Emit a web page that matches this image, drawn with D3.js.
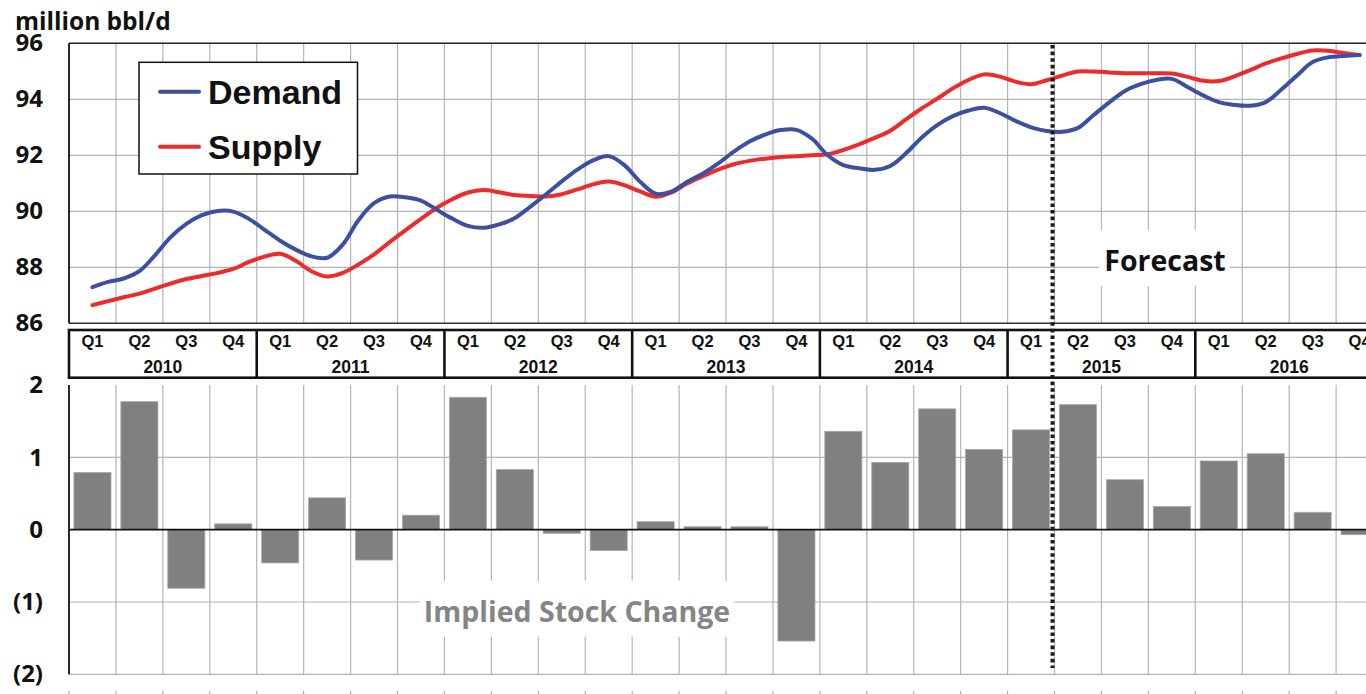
<!DOCTYPE html>
<html><head><meta charset="utf-8">
<script src="https://cdn.jsdelivr.net/npm/d3@7"></script>
<style>html,body{margin:0;padding:0;background:#fff;overflow:hidden}</style>
</head><body>
<svg id="chart" width="1366" height="694"></svg>
<script>
// ---------- DATA ----------
const years = ["2010","2011","2012","2013","2014","2015","2016"];
const quarterNames = ["Q1","Q2","Q3","Q4"];
// monthly-resolution readings, from Q1 2010 (centre) to Q4 2016 (centre), 3 per quarter
const demand = [87.29,87.48,87.60,87.86,88.43,89.08,89.55,89.86,90.01,89.99,89.73,89.34,
  88.95,88.63,88.39,88.34,88.81,89.68,90.29,90.53,90.50,90.38,90.06,89.74,
  89.48,89.41,89.53,89.76,90.17,90.61,91.07,91.49,91.82,91.97,91.65,91.06,
  90.63,90.70,91.05,91.34,91.71,92.13,92.49,92.74,92.90,92.91,92.59,92.00,
  91.65,91.54,91.48,91.62,92.07,92.63,93.08,93.40,93.60,93.70,93.51,93.23,
  93.00,92.87,92.84,92.98,93.44,93.89,94.30,94.54,94.69,94.73,94.44,94.14,
  93.90,93.80,93.77,93.90,94.35,94.85,95.33,95.50,95.55,95.58];
const supply = [86.65,86.79,86.93,87.06,87.24,87.42,87.58,87.69,87.80,87.94,88.19,88.38,
  88.48,88.23,87.86,87.67,87.80,88.10,88.46,88.90,89.32,89.73,90.12,90.43,
  90.67,90.76,90.68,90.58,90.55,90.53,90.61,90.78,90.96,91.06,90.93,90.71,
  90.52,90.67,90.99,91.25,91.49,91.68,91.80,91.88,91.94,91.97,92.00,92.04,
  92.19,92.39,92.62,92.88,93.28,93.67,94.02,94.39,94.69,94.89,94.81,94.63,
  94.54,94.68,94.85,94.99,94.99,94.96,94.93,94.93,94.93,94.92,94.80,94.66,
  94.65,94.82,95.04,95.28,95.46,95.62,95.74,95.73,95.65,95.58];
const stockChange = [0.79,1.77,-0.81,0.08, -0.46,0.44,-0.42,0.20, 1.83,0.83,-0.05,-0.29,
  0.11,0.04,0.04,-1.54, 1.36,0.93,1.67,1.11, 1.38,1.73,0.69,0.32, 0.95,1.05,0.24,-0.07];
const topTicks = [86,88,90,92,94,96];
const bottomTicks = [-2,-1,0,1,2];
const bottomTickLabels = ["(2)","(1)","0","1","2"];
const seriesNames = ["Demand","Supply"];
const forecastStart = 21; // quarter index (Q2 2015)

// ---------- LAYOUT ----------
const svg = d3.select("#chart");
const L = 69, QW = 46.93, R = L + 28*QW;
const quarters = [];
years.forEach(y => quarterNames.forEach(q => quarters.push(y + " " + q)));

const xq = d3.scaleLinear().domain([0, 28]).range([L, R]);
const xBand = d3.scaleBand().domain(quarters).range([L, R]).paddingInner(0.21).paddingOuter(0.105);
const yTop = d3.scaleLinear().domain([86, 96]).range([323.3, 43.3]);
const yBot = d3.scaleLinear().domain([-2, 2]).range([674.3, 385]);

const gridC = "#b4b4b4";
const blue = "#3d4fa2", red = "#ee2a2a";
const OS = "'Open Sans', sans-serif";

// ---------- TOP PLOT ----------
const gTop = svg.append("g");
gTop.selectAll("line.vg").data(d3.range(1, 29)).join("line")
  .attr("x1", d => xq(d)).attr("x2", d => xq(d))
  .attr("y1", yTop(96)).attr("y2", yTop(86))
  .attr("stroke", gridC).attr("stroke-width", 1.2);
gTop.selectAll("line.hg").data(topTicks.slice(1, -1)).join("line")
  .attr("x1", L).attr("x2", 1366).attr("y1", d => yTop(d)).attr("y2", d => yTop(d))
  .attr("stroke", gridC).attr("stroke-width", 1.2);
gTop.append("line").attr("x1", L).attr("x2", 1366).attr("y1", yTop(96)).attr("y2", yTop(96)).attr("stroke", "#222").attr("stroke-width", 1.6);
gTop.append("line").attr("x1", L).attr("x2", 1366).attr("y1", yTop(86)).attr("y2", yTop(86)).attr("stroke", "#333").attr("stroke-width", 1.6);
gTop.append("line").attr("x1", L).attr("x2", L).attr("y1", yTop(96)).attr("y2", yTop(86)).attr("stroke", "#111").attr("stroke-width", 1.8);

const yAxisTop = d3.axisLeft(yTop).tickValues(topTicks).tickSize(0).tickPadding(26).tickFormat(d3.format("d"));
const gyt = svg.append("g").attr("transform", `translate(${L},0)`).call(yAxisTop);
gyt.select(".domain").remove();
gyt.selectAll("text").attr("font-family", OS).attr("font-weight", "bold").attr("font-size", 24).attr("fill", "#111");

svg.append("text").attr("x", 15).attr("y", 29.5).text("million bbl/d")
  .attr("font-family", OS).attr("font-weight", "bold").attr("font-size", 24.5).attr("fill", "#111");

svg.append("rect").attr("x", 1099).attr("y", 230).attr("width", 131).attr("height", 56).attr("fill", "#fff");
svg.append("text").attr("x", 1165).attr("y", 270.5).attr("text-anchor", "middle").text("Forecast")
  .attr("font-family", OS).attr("font-weight", "bold").attr("font-size", 28.5).attr("fill", "#111");

const line = d3.line().x((d, i) => xq(0.5 + i / 3)).y(d => yTop(d)).curve(d3.curveCatmullRom.alpha(0.5));
gTop.append("path").datum(supply).attr("d", line).attr("fill", "none").attr("stroke", red).attr("stroke-width", 4).attr("stroke-linejoin", "round").attr("stroke-linecap", "round");
gTop.append("path").datum(demand).attr("d", line).attr("fill", "none").attr("stroke", blue).attr("stroke-width", 4).attr("stroke-linejoin", "round").attr("stroke-linecap", "round");

const lg = svg.append("g");
lg.append("rect").attr("x", 139).attr("y", 62.3).attr("width", 218.5).attr("height", 111.7).attr("fill", "#fff").attr("stroke", "#111").attr("stroke-width", 1.5);
[blue, red].forEach((c, i) => {
  const yy = 91.7 + i * 55;
  lg.append("line").attr("x1", 160).attr("x2", 199).attr("y1", yy).attr("y2", yy).attr("stroke", c).attr("stroke-width", 4).attr("stroke-linecap", "round");
  lg.append("text").attr("x", 208).attr("y", yy + 11.8).text(seriesNames[i])
    .attr("font-family", "'Liberation Sans', Arial, sans-serif").attr("font-weight", "bold").attr("font-size", 34).attr("fill", "#111");
});

// ---------- HEADER BAND ----------
const hb = svg.append("g");
hb.append("rect").attr("x", L).attr("y", 330).attr("width", R - L + 10).attr("height", 47.7).attr("fill", "#fff").attr("stroke", "#111").attr("stroke-width", 2.6);
hb.selectAll("line.ys").data(d3.range(1, 7)).join("line")
  .attr("x1", d => xq(d * 4)).attr("x2", d => xq(d * 4)).attr("y1", 330).attr("y2", 377.7)
  .attr("stroke", "#111").attr("stroke-width", 2.6);
hb.selectAll("text.q").data(quarters).join("text")
  .attr("x", (d, i) => xq(i + 0.5)).attr("y", 347).attr("text-anchor", "middle")
  .text(d => d.split(" ")[1])
  .attr("font-family", "'Liberation Sans', Arial, sans-serif").attr("font-weight", "bold").attr("font-size", 16.5).attr("fill", "#111");
hb.selectAll("text.y").data(years).join("text")
  .attr("x", (d, i) => xq(i * 4 + 2)).attr("y", 372.7).attr("text-anchor", "middle").text(d => d)
  .attr("font-family", "'Liberation Sans', Arial, sans-serif").attr("font-weight", "bold").attr("font-size", 17.5).attr("fill", "#111");

// ---------- BOTTOM PLOT ----------
const bot = svg.append("g");
bot.selectAll("line.vg").data(d3.range(1, 29)).join("line")
  .attr("x1", d => xq(d)).attr("x2", d => xq(d)).attr("y1", yBot(2)).attr("y2", yBot(-2))
  .attr("stroke", gridC).attr("stroke-width", 1.2);
bot.selectAll("line.hg").data([1, -1, -2]).join("line")
  .attr("x1", L).attr("x2", 1366).attr("y1", d => yBot(d)).attr("y2", d => yBot(d))
  .attr("stroke", gridC).attr("stroke-width", 1.2);
bot.selectAll("line.bt").data(d3.range(0, 29)).join("line")
  .attr("x1", d => xq(d)).attr("x2", d => xq(d)).attr("y1", 691).attr("y2", 694)
  .attr("stroke", "#999").attr("stroke-width", 1);

svg.append("rect").attr("x", 420).attr("y", 580.7).attr("width", 314).attr("height", 56).attr("fill", "#fff");
svg.append("text").attr("x", 577).attr("y", 621.7).attr("text-anchor", "middle").text("Implied Stock Change")
  .attr("font-family", OS).attr("font-weight", "bold").attr("font-size", 28.5).attr("fill", "#858585");

bot.selectAll("rect.bar").data(stockChange).join("rect")
  .attr("x", (d, i) => xBand(quarters[i])).attr("width", xBand.bandwidth())
  .attr("y", d => yBot(Math.max(0, d))).attr("height", d => Math.abs(yBot(d) - yBot(0)))
  .attr("fill", "#808080").attr("stroke", "#a8a8a8").attr("stroke-width", 0.8);

bot.append("line").attr("x1", L).attr("x2", 1366).attr("y1", yBot(0)).attr("y2", yBot(0)).attr("stroke", "#111").attr("stroke-width", 1.6);
bot.append("line").attr("x1", L).attr("x2", L).attr("y1", yBot(2)).attr("y2", yBot(-2)).attr("stroke", "#111").attr("stroke-width", 1.8);

const yAxisBot = d3.axisLeft(yBot).tickValues(bottomTicks).tickSize(0).tickPadding(26)
  .tickFormat((d, i) => bottomTickLabels[i]);
const gyb = svg.append("g").attr("transform", `translate(${L},0)`).call(yAxisBot);
gyb.select(".domain").remove();
gyb.selectAll("text").attr("font-family", OS).attr("font-weight", "bold").attr("font-size", 24).attr("fill", "#111");

svg.append("line").attr("x1", xq(forecastStart) - 2).attr("x2", xq(forecastStart) - 2).attr("y1", 45).attr("y2", 668)
  .attr("stroke", "#1a1a1a").attr("stroke-width", 4).attr("stroke-dasharray", "3.6,3");
</script>
</body></html>
